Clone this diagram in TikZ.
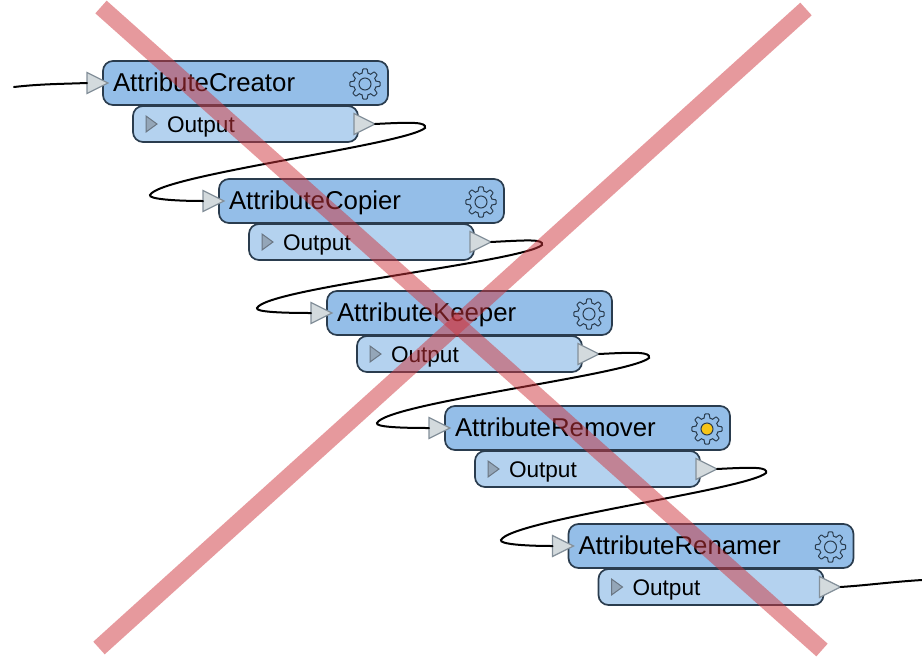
\documentclass[tikz,border=0pt]{standalone}
\usepackage{fontspec}
\setmainfont{Liberation Sans}
\usetikzlibrary{shapes.geometric}
\definecolor{mainfill}{HTML}{94BEE8}
\definecolor{outfill}{HTML}{B4D2EF}
\definecolor{boxline}{HTML}{2A3C4E}
\definecolor{trifill}{HTML}{D3DADD}
\definecolor{triline}{HTML}{84909A}
\definecolor{smalltri}{HTML}{94A6B8}
\definecolor{crossred}{RGB}{207,53,61}
\definecolor{gearlamp}{HTML}{F6C417}
\tikzset{
  mainbox/.style={draw=boxline,line width=1.7pt,fill=mainfill,rounded corners=10pt,anchor=north west,outer sep=0pt,
    minimum width=285pt,minimum height=44pt,inner xsep=10pt,inner ysep=0pt,text width=265pt,align=left,
    font=\fontsize{25.8}{28}\selectfont},
  outbox/.style={draw=boxline,line width=1.7pt,fill=outfill,rounded corners=10pt,anchor=north west,outer sep=0pt,
    minimum width=225pt,minimum height=36pt,inner xsep=10pt,inner ysep=0pt,text width=205pt,align=left,
    font=\fontsize{22.6}{25}\selectfont},
  porttri/.style={isosceles triangle,isosceles triangle stretches,shape border rotate=0,draw=triline,line width=1.2pt,
    fill=trifill,minimum width=21pt,minimum height=21pt,inner sep=0pt,outer sep=0pt,anchor=west},
  marktri/.style={isosceles triangle,isosceles triangle stretches,shape border rotate=0,draw=boxline!70,line width=1pt,
    fill=smalltri,minimum width=16pt,minimum height=11pt,inner sep=0pt,outer sep=0pt,anchor=west},
  wire/.style={draw=black,line width=2pt,line cap=round},
  crossbar/.style={draw=crossred,line width=17pt,opacity=0.5},
  gearline/.style={draw=boxline,line width=1pt}
}
% #1 prefix, #2 x, #3 y of main box, #4 y of output box, #5 label, #6 gear hole fill
\newcommand{\xformer}[6]{%
  \node[mainbox] (#1main) at (#2,#3) {\raisebox{0pt}[16pt][0pt]{#5}};
  \node[outbox] (#1out) at ({#2+30},#4) {\hspace*{24pt}\raisebox{0pt}[16pt][0pt]{Output}};
  \node[porttri] (#1in) at ({#2-16},{#3+22}) {};
  \node[porttri] (#1op) at ({#2+251},{#4+18}) {};
  \node[marktri] (#1mark) at ({#2+43},{#4+18}) {};
  \begin{scope}[shift={({#2+262},{#3+23})}]
    \draw[gearline,fill=none] plot[domain=0:360,samples=121,smooth] ({(13.2+2*max(-1,min(1,2.2*cos(8*\x))))*cos(\x)},{(13.2+2*max(-1,min(1,2.2*cos(8*\x))))*sin(\x)}) -- cycle;
    \draw[gearline,fill=#6] (0,0) circle (6);
  \end{scope}
}
% #1 from, #2 to, #3 right turn, #4 left turn
\newcommand{\wireback}[4]{%
  \draw[wire] (#1op.east) .. controls +(38,-2) and +(2,-6) .. (#3)
     .. controls +(-20,17) and +(10,-20) .. (#4)
     .. controls +(-2,4) and +(-28,0) .. (#2in.west);
}
\begin{document}
\begin{tikzpicture}[x=1pt,y=-1pt]
\useasboundingbox (0,0) rectangle (922,657);
\fill[white] (0,0) rectangle (922,657);
\coordinate (startfree) at (14,87);
\coordinate (endfree) at (922,580);
\coordinate (r1) at (425,128);
\coordinate (l1) at (150,195);
\coordinate (r2) at (542,245);
\coordinate (l2) at (257,308);
\coordinate (r3) at (649,358);
\coordinate (l3) at (377,423);
\coordinate (r4) at (766,473);
\coordinate (l4) at (501,540);
\xformer{a}{103}{61}{106}{AttributeCreator}{none}
\xformer{b}{219}{179}{224}{AttributeCopier}{none}
\xformer{c}{327}{291}{336}{AttributeKeeper}{none}
\xformer{d}{445}{406}{451}{AttributeRemover}{gearlamp}
\xformer{e}{568.5}{524}{569}{AttributeRenamer}{none}
\draw[wire] (startfree) .. controls (40,84) and (60,84) .. (ain.west);
\wireback{a}{b}{r1}{l1}
\wireback{b}{c}{r2}{l2}
\wireback{c}{d}{r3}{l3}
\wireback{d}{e}{r4}{l4}
\draw[wire] (eop.east) .. controls (870,585) and (890,582) .. (endfree);
\coordinate (xa) at (101,7);
\coordinate (xb) at (822,650);
\coordinate (xc) at (806,9);
\coordinate (xd) at (99,648);
\draw[crossbar] (xa) -- (xb);
\draw[crossbar] (xc) -- (xd);
\end{tikzpicture}
\end{document}
